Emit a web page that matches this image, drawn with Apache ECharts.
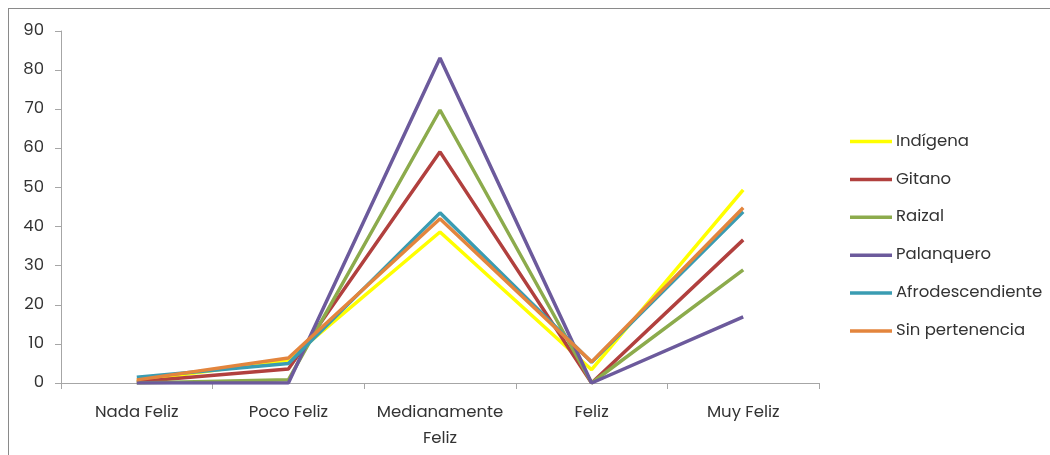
<!DOCTYPE html>
<html>
<head>
<meta charset="utf-8">
<script src="https://cdn.jsdelivr.net/npm/echarts@6/dist/echarts.min.js"></script>
<style>
html,body{margin:0;padding:0;background:#fff;}
#frame{position:absolute;left:8px;top:8px;width:1100px;height:500px;border:1.5px solid #8a8a8a;box-sizing:border-box;}
#chart{position:absolute;left:0;top:0;width:1050px;height:455px;}
</style>
</head>
<body>
<div id="frame"></div>
<div id="chart"></div>
<script>
const categories = ["Nada Feliz", "Poco Feliz", "Medianamente\nFeliz", "Feliz", "Muy Feliz"];
const yTicks = [0, 10, 20, 30, 40, 50, 60, 70, 80, 90];
const indigena = [0.5, 5.9, 38.6, 3.4, 49.4];
const gitano = [0.3, 3.6, 59.1, 0, 36.6];
const raizal = [0, 0.8, 69.8, 0, 28.9];
const palanquero = [0, 0, 83.1, 0, 16.9];
const afrodescendiente = [1.5, 5.0, 43.5, 5.3, 43.8];
const sinPertenencia = [0.8, 6.4, 42.0, 5.4, 44.8];

const seriesDefs = [
  ["Indígena", indigena, "#FFFF00"],
  ["Gitano", gitano, "#B1403E"],
  ["Raizal", raizal, "#8CAB4C"],
  ["Palanquero", palanquero, "#6C5A9C"],
  ["Afrodescendiente", afrodescendiente, "#3A9CB2"],
  ["Sin pertenencia", sinPertenencia, "#E3853D"]
];
const font = "Poppins, Lato, 'Noto Sans', sans-serif";
const chart = echarts.init(document.getElementById('chart'));
chart.setOption({
  animation: false,
  grid: {left: 61, right: 231, top: 31, bottom: 72},
  legend: {
    orient: 'vertical', left: 845, top: 128,
    icon: 'rect',
    itemWidth: 42, itemHeight: 3.5, itemGap: 20.9,
    textStyle: {fontFamily: font, fontSize: 16.5, lineHeight: 14, color: '#333', padding: [0,0,0,-1]},
    data: seriesDefs.map(s => s[0])
  },
  xAxis: {
    type: 'category', data: categories, boundaryGap: true,
    axisLine: {lineStyle: {color: '#a6a6a6', width: 1}},
    axisTick: {show: true, length: 6, lineStyle: {color: '#a6a6a6'}},
    axisLabel: {fontFamily: font, fontSize: 16.5, color: '#333', margin: 17, lineHeight: 26, interval: 0}
  },
  yAxis: {
    type: 'value', min: 0, max: 90, interval: 10,
    splitLine: {show: false},
    axisLine: {show: true, lineStyle: {color: '#a6a6a6', width: 1}},
    axisTick: {show: true, length: 6, lineStyle: {color: '#a6a6a6'}},
    axisLabel: {fontFamily: font, fontSize: 16.5, color: '#333', margin: 17,
      formatter: v => yTicks.includes(v) ? String(v) : ''}
  },
  series: seriesDefs.map(([name, data, color]) => ({
    name, type: 'line', data, symbol: 'none', color,
    lineStyle: {width: 3.5, color}
  }))
});
</script>
</body>
</html>
